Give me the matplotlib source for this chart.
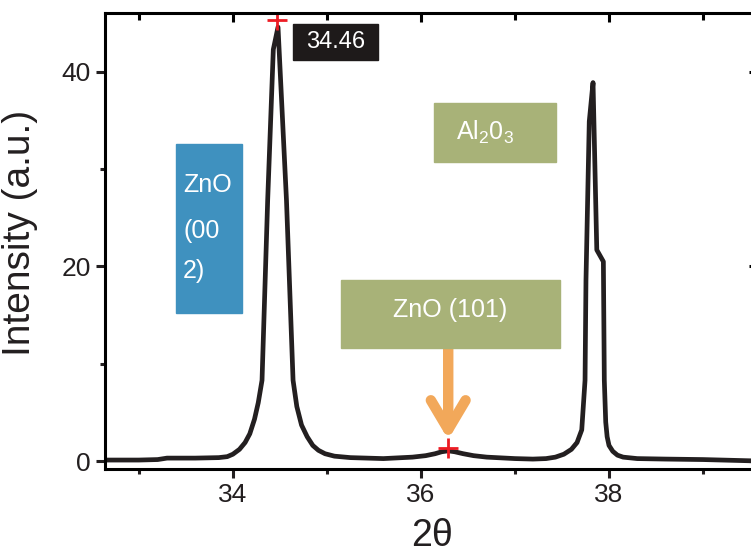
import numpy as np
import matplotlib.pyplot as plt
from matplotlib.patches import Rectangle, FancyArrowPatch
from matplotlib.ticker import MultipleLocator

plt.rcParams['font.family'] = ['Liberation Sans', 'DejaVu Sans']
plt.rcParams['mathtext.fontset'] = 'custom'
plt.rcParams['mathtext.rm'] = 'Liberation Sans'
plt.rcParams['mathtext.default'] = 'regular'

# XRD scan
two_theta = [32.64, 33.0, 33.2, 33.3, 33.6, 33.85, 33.94, 34.0, 34.07, 34.13,
             34.18, 34.23, 34.27, 34.31, 34.37, 34.43, 34.48, 34.57, 34.64, 34.68,
             34.73, 34.79, 34.85, 34.91, 34.98, 35.08, 35.25, 35.6, 35.91, 36.05,
             36.15, 36.22, 36.29, 36.36, 36.45, 36.56, 36.7, 37.0, 37.19, 37.33,
             37.43, 37.52, 37.6, 37.66, 37.71, 37.745, 37.755, 37.79, 37.83, 37.87,
             37.94, 37.95, 37.965, 37.98, 38.0, 38.04, 38.09, 38.15, 38.3, 38.6,
             39.0, 39.6]
intensity = [0.1, 0.1, 0.15, 0.3, 0.3, 0.35, 0.45, 0.7, 1.2, 1.9,
             2.8, 4.3, 6.0, 8.3, 26.8, 42.3, 44.6, 26.8, 8.3, 5.6,
             3.7, 2.5, 1.6, 1.1, 0.75, 0.5, 0.35, 0.25, 0.4, 0.55,
             0.75, 0.95, 1.05, 0.95, 0.75, 0.55, 0.4, 0.25, 0.2, 0.25,
             0.4, 0.7, 1.2, 1.9, 3.2, 8.3, 18.6, 34.9, 38.9, 21.7,
             20.5, 8.3, 4.0, 2.5, 1.6, 1.0, 0.6, 0.4, 0.25, 0.2,
             0.15, 0.0]
peak_x = [34.47, 36.29]
peak_y = [45.3, 1.3]
peak_label = "34.46"

fig = plt.figure(figsize=(7.51, 5.59), dpi=100)
ax = fig.add_axes([0.1398, 0.161, 0.8696, 0.8166])

ax.plot(two_theta, intensity, color='#231f20', lw=3.4, solid_joinstyle='round')
ax.plot(peak_x, peak_y, '+', color='#ed1c24', ms=14, mew=2)

ax.set_xlim(32.64, 39.585)
ax.set_ylim(-0.82, 46.1)
ax.xaxis.set_major_locator(MultipleLocator(2))
ax.xaxis.set_minor_locator(MultipleLocator(1))
ax.yaxis.set_major_locator(MultipleLocator(20))
ax.yaxis.set_minor_locator(MultipleLocator(10))
for s in ax.spines.values():
    s.set_linewidth(2.2)
ax.tick_params(which='both', direction='out', width=2.2, labelsize=19, colors='#231f20')
ax.tick_params(which='major', length=6.5)
ax.tick_params(which='minor', length=3.5)

top = ax.secondary_xaxis('top')
top.xaxis.set_major_locator(MultipleLocator(2))
top.xaxis.set_minor_locator(MultipleLocator(1))
top.tick_params(which='both', direction='in', width=2.2, labeltop=False)
top.tick_params(which='major', length=6.5)
top.tick_params(which='minor', length=5)
right = ax.secondary_yaxis('right')
right.yaxis.set_major_locator(MultipleLocator(20))
right.yaxis.set_minor_locator(MultipleLocator(10))
right.tick_params(which='both', direction='in', width=2.2, labelright=False)
right.tick_params(which='major', length=6.5)
right.tick_params(which='minor', length=4)

ax.set_ylabel("Intensity (a.u.)", fontsize=28, color='#231f20')
ax.yaxis.set_label_coords(-0.1026, 0.518)
ax.set_xlabel("2θ", fontsize=27, color='#231f20', labelpad=8)

# ZnO (002) box
ax.add_patch(Rectangle((33.39, 15.2), 0.71, 17.4, color='#3f91bf', zorder=3))
for txt, yb in zip(["ZnO", "(00", "2)"], [27.66, 22.9, 18.8]):
    ax.text(33.47, yb, txt, color='white', fontsize=18, va='baseline', zorder=4)

# peak value box
ax.add_patch(Rectangle((34.64, 41.2), 0.9, 3.7, color='#1e1a1a', zorder=3))
ax.text(35.09, 43.05, peak_label, color='white', fontsize=17, ha='center', va='center', zorder=4)

# Al2O3 box
ax.add_patch(Rectangle((36.14, 30.7), 1.30, 6.1, color='#a8b278', zorder=3))
ax.text(36.37, 33.8, r"Al$_2$0$_3$", color='white', fontsize=18, va='center', zorder=4)

# ZnO (101) box and arrow
ax.add_patch(Rectangle((35.15, 11.6), 2.33, 7.0, color='#a8b278', zorder=3))
ax.text(36.31, 15.5, "ZnO (101)", color='white', fontsize=18, ha='center', va='center', zorder=4)
arr = FancyArrowPatch((36.29, 11.6), (36.29, 2.2), arrowstyle='->,head_length=2.1,head_width=1.25',
                      mutation_scale=10, lw=7.5, color='#f2a85a', capstyle='round',
                      joinstyle='round', shrinkA=0, shrinkB=0, zorder=2)
ax.add_patch(arr)

fig.savefig("out.png", dpi=100)
